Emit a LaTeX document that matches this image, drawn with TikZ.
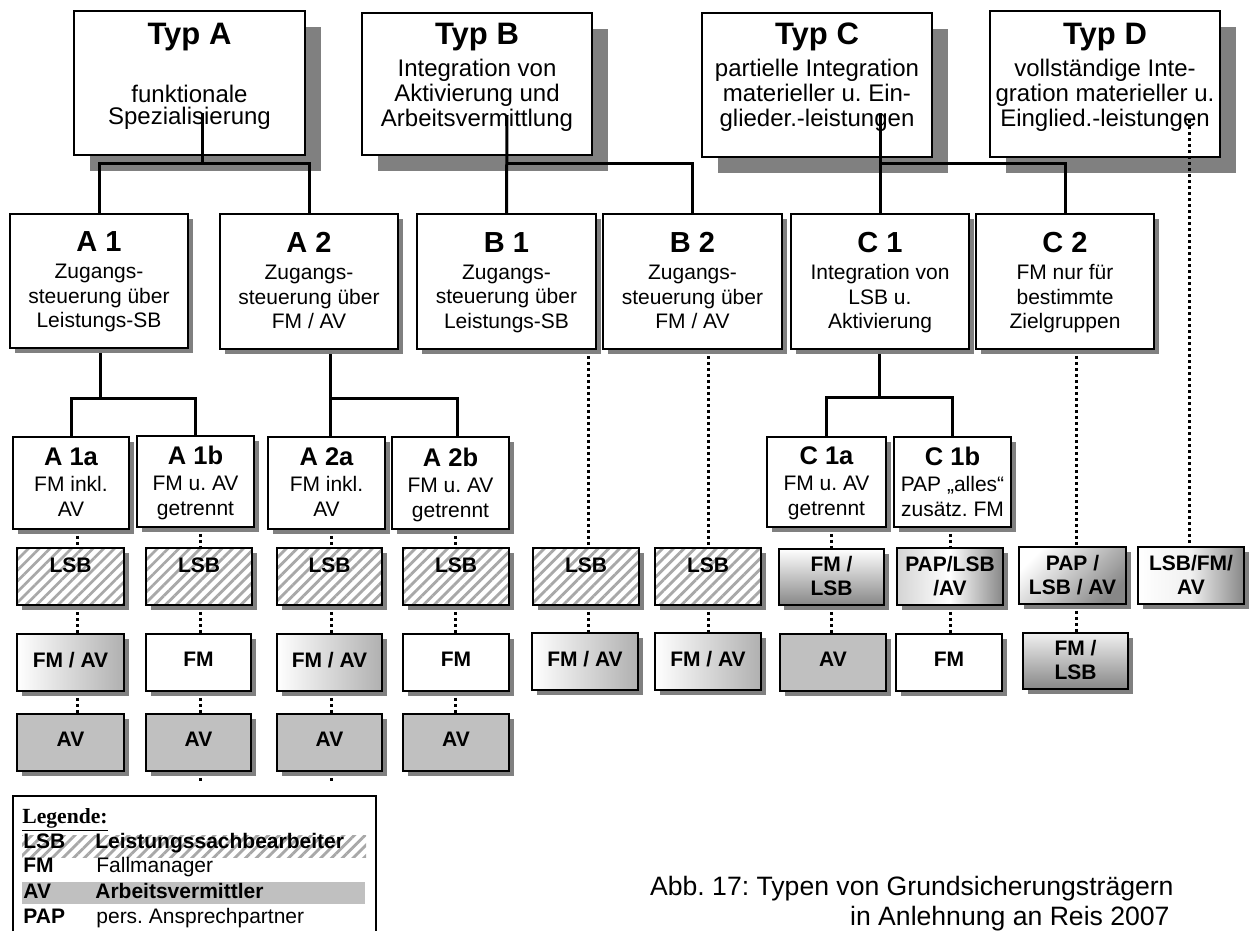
\documentclass[tikz,border=0pt]{standalone}
\usepackage{fontspec}
\setmainfont{Liberation Sans}
\newfontfamily\legserif{Liberation Serif}
\usetikzlibrary{shadows,patterns.meta}
\frenchspacing
\definecolor{shd}{RGB}{128,128,128}
\definecolor{avg}{RGB}{192,192,192}
\definecolor{hatchc}{RGB}{168,168,168}
\definecolor{gradc}{RGB}{176,176,176}
\definecolor{darkc}{RGB}{135,135,135}
\definecolor{lightc}{RGB}{212,212,212}
\definecolor{nearw}{RGB}{240,240,240}
\pgfdeclarelayer{back}
\pgfdeclarelayer{bg}
\pgfsetlayers{back,bg,main}
\newcommand\placebox[7]{%
  \pgfmathsetmacro\pbw{(#4-#2)*0.5}%
  \pgfmathsetmacro\pbh{(#5-#3)*0.5}%
  \pgfmathsetmacro\pbx{(#2+#4)/2}%
  \pgfmathsetmacro\pby{(#3+#5)/2}%
  \node[#6, minimum width=\pbw pt, minimum height=\pbh pt] (#1) at (\pbx,\pby) {#7};}
\tikzset{
  boxbase/.style={draw=black, line width=0.9pt, inner sep=0pt, align=center},
  bigshadow/.style={general shadow={fill=shd, shadow xshift=8pt, shadow yshift=-8pt}},
  smallshadow/.style={general shadow={fill=shd, shadow xshift=2.5pt, shadow yshift=-2.5pt}},
  typbox/.style={boxbase, bigshadow, fill=white, font=\fontsize{12}{12.5}\selectfont, text depth=8.7pt},
  midbox/.style={boxbase, smallshadow, fill=white, font=\fontsize{10.5}{12.25}\selectfont, text depth=1pt},
  subbox/.style={boxbase, smallshadow, fill=white, font=\fontsize{10.5}{12.5}\selectfont, text depth=0.65pt},
  lbl/.style={boxbase, smallshadow, font=\bfseries\fontsize{10.5}{12}\selectfont, text depth=3pt},
  lbltwo/.style={lbl, text depth=1pt},
  hatch/.style={preaction={fill=white}, pattern={Lines[angle=45,distance=3.8pt,line width=1.4pt]}, pattern color=hatchc},
  lsbbox/.style={lbl, hatch, text depth=11pt},
  plainbox/.style={lbl, fill=white},
  avbox/.style={lbl, fill=avg},
  gradh/.style={lbl, left color=white, right color=gradc},
  conn/.style={line width=1.5pt},
  dots/.style={line width=1.5pt, dash pattern=on 1.5pt off 1.5pt},
  legtext/.style={anchor=base west, inner sep=0pt, font=\fontsize{10.5}{12}\selectfont},
  legbold/.style={legtext, font=\bfseries\fontsize{10.5}{12}\selectfont},
}
\newcommand\typtitle[1]{{\bfseries\fontsize{15.5}{16}\selectfont #1}}
\newcommand\midtitle[1]{{\bfseries\fontsize{14.5}{15}\selectfont #1}}
\newcommand\subtitle[1]{{\bfseries\fontsize{12.75}{13}\selectfont #1}}
\begin{document}
\begin{tikzpicture}[x=0.5pt,y=-0.5pt]
\begin{pgfonlayer}{back}
\path[use as bounding box, fill=white] (0,0) rectangle (1255,931);
\end{pgfonlayer}

% ---- top row
\placebox{TA}{74}{11}{305}{155}{typbox, text depth=9.2pt}{\typtitle{Typ A}\\[16.5pt]funktionale\\[-1.5pt]Spezialisierung}
\placebox{TB}{362}{13}{592}{155}{typbox}{\typtitle{Typ B}\\[3.5pt]Integration von\\Aktivierung und\\Arbeitsvermittlung}
\placebox{TC}{702}{13}{932}{157}{typbox, text depth=10.7pt}{\typtitle{Typ C}\\[3.5pt]partielle Integration\\materieller u. Ein-\\glieder.-leistungen}
\placebox{TD}{990}{11}{1220}{157}{typbox}{\typtitle{Typ D}\\[3.5pt]vollständige Inte-\\gration materieller u.\\Einglied.-leistungen}

% ---- second row
\placebox{A1}{10}{214}{188}{348}{midbox}{\midtitle{A 1}\\[1.25pt]Zugangs-\\steuerung über\\Leistungs-SB}
\placebox{A2}{220}{214}{398}{349}{midbox}{\midtitle{A 2}\\[1.25pt]Zugangs-\\steuerung über\\FM / AV}
\placebox{B1}{417}{214}{596}{349}{midbox}{\midtitle{B 1}\\[1.25pt]Zugangs-\\steuerung über\\Leistungs-SB}
\placebox{B2}{603}{214}{782}{349}{midbox}{\midtitle{B 2}\\[1.25pt]Zugangs-\\steuerung über\\FM / AV}
\placebox{C1}{791}{214}{969}{349}{midbox}{\midtitle{C 1}\\[1.25pt]Integration von\\LSB u.\\Aktivierung}
\placebox{C2}{976}{214}{1154}{349}{midbox}{\midtitle{C 2}\\[1.25pt]FM nur für\\bestimmte\\Zielgruppen}

% ---- third row
\placebox{A1a}{13}{437}{129}{529}{subbox}{\subtitle{A 1a}\\[0.5pt]FM inkl.\\AV}
\placebox{A1b}{137}{436}{254}{527}{subbox}{\subtitle{A 1b}\\[0.5pt]FM u. AV\\getrennt}
\placebox{A2a}{268}{437}{385}{529}{subbox}{\subtitle{A 2a}\\[0.5pt]FM inkl.\\AV}
\placebox{A2b}{392}{437}{509}{529}{subbox}{\subtitle{A 2b}\\[0.5pt]FM u. AV\\getrennt}
\placebox{C1a}{767}{437}{886}{527}{subbox}{\subtitle{C 1a}\\[0.5pt]FM u. AV\\getrennt}
\placebox{C1b}{894}{437}{1011}{527}{subbox}{\subtitle{C 1b}\\[0.5pt]PAP „alles“\\zusätz. FM}

% ---- fourth row
\placebox{L1a}{17}{548}{124}{605}{lsbbox}{LSB}
\placebox{L1b}{146}{548}{252}{605}{lsbbox}{LSB}
\placebox{L2a}{277}{548}{382}{605}{lsbbox}{LSB}
\placebox{L2b}{403}{548}{509}{605}{lsbbox}{LSB}
\placebox{LB1}{533}{548}{639}{605}{lsbbox}{LSB}
\placebox{LB2}{655}{548}{761}{605}{lsbbox}{LSB}
\placebox{LC1a}{779}{549}{884}{605}{lbltwo, top color=white, bottom color=darkc}{FM /\\LSB}
\placebox{LC1b}{897}{548}{1003}{605}{lbltwo, left color=lightc, right color=darkc, middle color=white}{PAP/LSB\\/AV}
\placebox{LC2}{1019}{547}{1126}{604}{lbltwo, top color=white, bottom color=darkc, shading angle=45}{PAP /\\LSB / AV}
\placebox{LD}{1138}{547}{1244}{604}{lbltwo, left color=white, right color=darkc, middle color=nearw}{LSB/FM/\\AV}

% ---- fifth row
\placebox{M1a}{17}{634}{124}{691}{gradh}{FM / AV}
\placebox{M1b}{146}{634}{251}{691}{plainbox}{FM}
\placebox{M2a}{277}{634}{382}{691}{gradh}{FM / AV}
\placebox{M2b}{403}{634}{509}{691}{plainbox}{FM}
\placebox{MB1}{532}{633}{638}{690}{gradh}{FM / AV}
\placebox{MB2}{655}{633}{761}{690}{gradh}{FM / AV}
\placebox{MC1a}{780}{634}{886}{691}{avbox}{AV}
\placebox{MC1b}{896}{634}{1002}{691}{plainbox}{FM}
\placebox{MC2}{1023}{633}{1128}{689}{lbltwo, top color=nearw, bottom color=darkc}{FM /\\LSB}

% ---- sixth row
\placebox{N1a}{17}{714}{124}{771}{avbox}{AV}
\placebox{N1b}{146}{714}{251}{771}{avbox}{AV}
\placebox{N2a}{277}{714}{382}{771}{avbox}{AV}
\placebox{N2b}{403}{714}{509}{771}{avbox}{AV}

% ---- column coordinates
\coordinate (c1a) at (77,0);
\coordinate (c1b) at (200,0);
\coordinate (c2a) at (331,0);
\coordinate (c2b) at (455,0);
\coordinate (cB1) at (588,0);
\coordinate (cB2) at (708,0);
\coordinate (cC1a) at (831,0);
\coordinate (cC1b) at (950,0);
\coordinate (cC2) at (1076,0);
\coordinate (cD) at (1189,0);
\coordinate (kA1) at (100,398);
\coordinate (kA2) at (330,398);
\coordinate (eA2) at (457,398);
\coordinate (kC1) at (879,397);

\begin{pgfonlayer}{bg}
% dotted columns
\draw[dots] (A1a.south -| c1a) -- (L1a.north -| c1a) (L1a.south -| c1a) -- (M1a.north -| c1a) (M1a.south -| c1a) -- (N1a.north -| c1a);
\draw[dots] (A1b.south -| c1b) -- (L1b.north -| c1b) (L1b.south -| c1b) -- (M1b.north -| c1b) (M1b.south -| c1b) -- (N1b.north -| c1b) (N1b.south -| c1b) -- ++(0,10);
\draw[dots] (A2a.south -| c2a) -- (L2a.north -| c2a) (L2a.south -| c2a) -- (M2a.north -| c2a) (M2a.south -| c2a) -- (N2a.north -| c2a) (N2a.south -| c2a) -- ++(0,10);
\draw[dots] (A2b.south -| c2b) -- (L2b.north -| c2b) (L2b.south -| c2b) -- (M2b.north -| c2b) (M2b.south -| c2b) -- (N2b.north -| c2b);
\draw[dots] (B1.south -| cB1) -- (LB1.north -| cB1) (LB1.south -| cB1) -- (MB1.north -| cB1);
\draw[dots] (B2.south -| cB2) -- (LB2.north -| cB2) (LB2.south -| cB2) -- (MB2.north -| cB2);
\draw[dots] (C1a.south -| cC1a) -- (LC1a.north -| cC1a) (LC1a.south -| cC1a) -- (MC1a.north -| cC1a);
\draw[dots] (C1b.south -| cC1b) -- (LC1b.north -| cC1b) (LC1b.south -| cC1b) -- (MC1b.north -| cC1b);
\draw[dots] (C2.south -| cC2) -- (LC2.north -| cC2) (LC2.south -| cC2) -- (MC2.north -| cC2);
% solid second to third row
\draw[conn] (A1.south -| kA1) -- (kA1);
\draw[conn] (A1a.north) |- (A1b.north |- kA1) -- (A1b.north);
\draw[conn] (A2.south -| kA2) -- (A2a.north -| kA2);
\draw[conn] (kA2) -- (eA2) -- (A2b.north -| eA2);
\draw[conn] (C1.south -| kC1) -- (kC1);
\draw[conn] (C1a.north) |- (C1b.north |- kC1) -- (C1b.north);
\end{pgfonlayer}

% ---- top connectors
\coordinate (sA) at (202,113);
\coordinate (jA) at (202,163);
\coordinate (sB) at (507,115);
\coordinate (jB) at (507,163);
\coordinate (sC) at (880,113);
\coordinate (jC) at (880,163);
\coordinate (sD) at (1189,120);
\draw[conn] (sA) -- (jA);
\draw[conn] (A1.north) |- (jA) -| (A2.north);
\draw[conn] (sB) -- (B1.north);
\draw[conn] (jB) -| (B2.north);
\draw[conn] (sC) -- (C1.north);
\draw[conn] (jC) -| (C2.north);
\draw[dots] (sD) -- (LD.north -| cD);

% ---- legend
\draw[line width=0.7pt] (13,931) -- (13,796) -- (376,796) -- (376,931);
\placebox{legL}{22}{835}{366}{857}{inner sep=0pt, hatch}{}
\placebox{legA}{22}{882}{365}{904}{inner sep=0pt, fill=avg}{}
\node[anchor=base west, inner sep=0pt, font=\legserif\bfseries\fontsize{10.8}{12}\selectfont] (legT) at (22,823) {\underline{Legende:}};
\node[legbold] (k1) at (23,848) {LSB};
\node[legbold] (v1) at (95,848) {Leistungssachbearbeiter};
\node[legbold] (k2) at (23,872) {FM};
\node[legtext] (v2) at (96,872) {Fallmanager};
\node[legbold] (k3) at (23,898) {AV};
\node[legbold] (v3) at (95,898) {Arbeitsvermittler};
\node[legbold] (k4) at (23,923) {PAP};
\node[legtext] (v4) at (96,923) {pers. Ansprechpartner};

% ---- caption
\node[anchor=base east, inner sep=0pt, font=\fontsize{13.3}{15}\selectfont] (cap1) at (1174,895) {Abb. 17: Typen von Grundsicherungsträgern};
\node[anchor=base east, inner sep=0pt, font=\fontsize{13.3}{15}\selectfont] (cap2) at (1170,925) {in Anlehnung an Reis 2007};
\end{tikzpicture}
\end{document}
